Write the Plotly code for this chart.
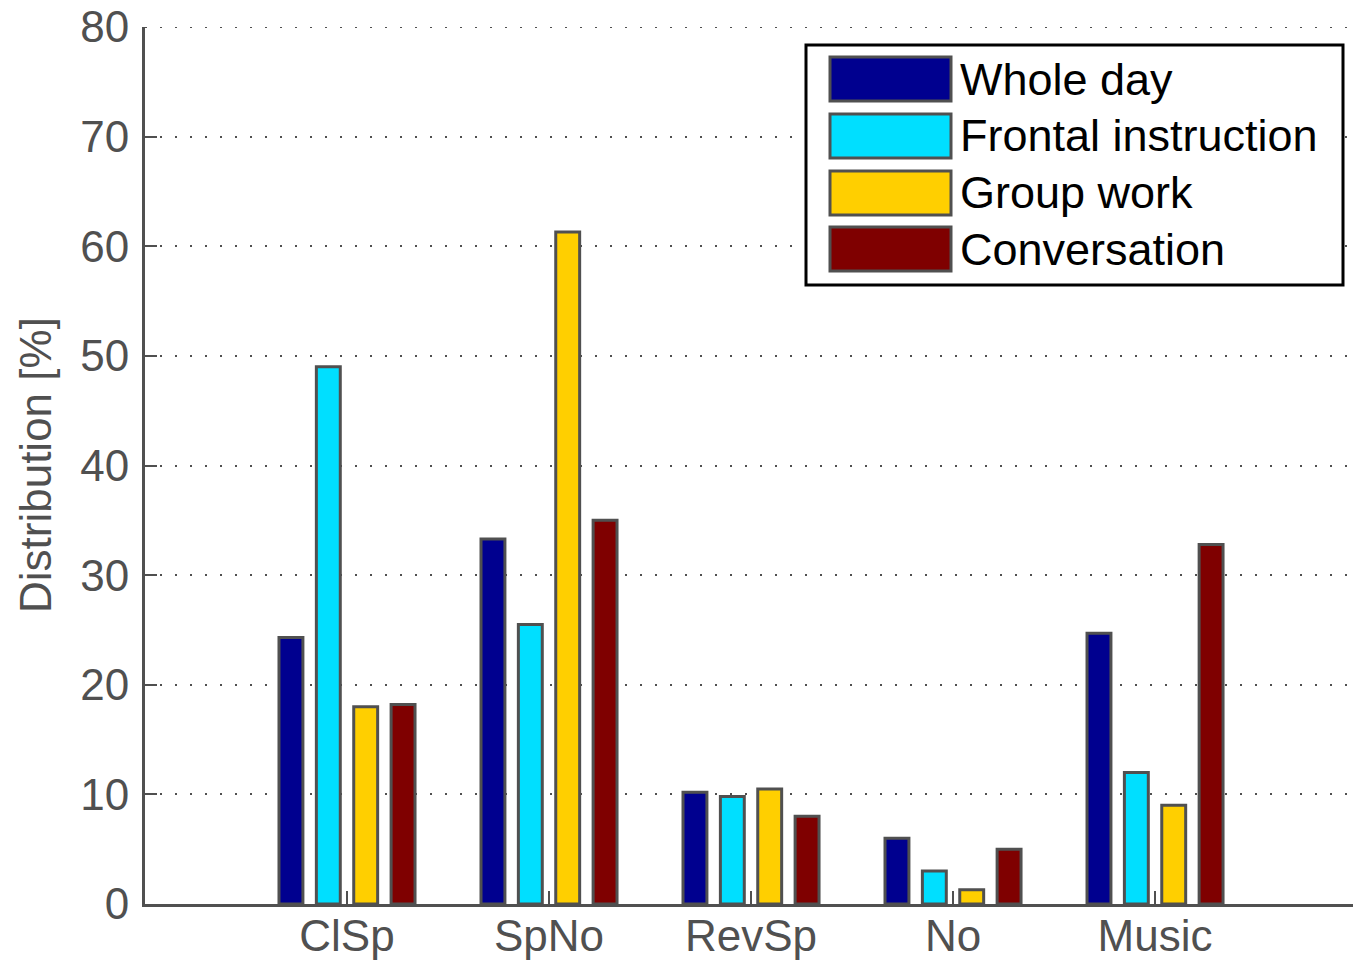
import plotly.graph_objects as go

# Categories and series values (percent)
categories = ["ClSp", "SpNo", "RevSp", "No", "Music"]
series_names = ["Whole day", "Frontal instruction", "Group work", "Conversation"]
whole_day = [24.3, 33.3, 10.2, 6.0, 24.7]
frontal_instruction = [49.0, 25.5, 9.8, 3.0, 12.0]
group_work = [18.0, 61.3, 10.5, 1.3, 9.0]
conversation = [18.2, 35.0, 8.0, 5.0, 32.8]
series_values = [whole_day, frontal_instruction, group_work, conversation]
series_colors = ["#00008F", "#00DFFF", "#FFCF00", "#7F0000"]

y_ticks = list(range(0, 81, 10))
Y_MAX = 80

W, H = 1353, 960
ML, MR, MT, MB = 145, 0, 27, 56
PW, PH = W - ML - MR, H - MT - MB

AXIS = "#505050"
FONT = "Liberation Sans, Arial, sans-serif"
FS = 44
GRID_DASH = "2px,13px"

x_pos = list(range(1, len(categories) + 1))

fig = go.Figure()
for name, vals, col in zip(series_names, series_values, series_colors):
    fig.add_trace(go.Bar(
        x=x_pos, y=vals, name=name,
        marker=dict(color=col, line=dict(color=AXIS, width=3)),
        showlegend=False,
    ))


def px_x(p):
    return (p - ML) / PW


def px_y(p):
    return (H - MB - p) / PH


# Dotted grid line along the top edge of the axes
shapes = [dict(type="line", xref="paper", yref="y", x0=0, x1=1, y0=Y_MAX, y1=Y_MAX,
               line=dict(color=AXIS, width=2, dash=GRID_DASH), layer="below")]

# Legend box drawn in paper coordinates
shapes.append(dict(type="rect", xref="paper", yref="paper",
                   x0=px_x(806), x1=px_x(1343), y0=px_y(285), y1=px_y(45),
                   line=dict(color="black", width=3), fillcolor="white", layer="above"))
annotations = []
row_top = [57, 114, 171, 227]
for i, (name, col) in enumerate(zip(series_names, series_colors)):
    t = row_top[i]
    b = t + 44
    shapes.append(dict(type="rect", xref="paper", yref="paper",
                       x0=px_x(830), x1=px_x(951), y0=px_y(b), y1=px_y(t),
                       line=dict(color=AXIS, width=3), fillcolor=col, layer="above"))
    annotations.append(dict(xref="paper", yref="paper", x=px_x(958), y=px_y((t + b) / 2),
                            text=name, showarrow=False, xanchor="left", yanchor="middle",
                            font=dict(family=FONT, size=45, color="black")))

# Y-axis title
annotations.append(dict(xref="paper", yref="paper", x=px_x(35), y=px_y(465),
                        text="Distribution [%]", showarrow=False, textangle=-90,
                        xanchor="center", yanchor="middle",
                        font=dict(family=FONT, size=FS, color=AXIS)))

fig.update_layout(
    width=W, height=H,
    margin=dict(l=ML, r=MR, t=MT, b=MB),
    paper_bgcolor="white", plot_bgcolor="white",
    barmode="group", bargap=0.26, bargroupgap=0.36,
    font=dict(family=FONT, size=FS, color=AXIS),
    shapes=shapes, annotations=annotations,
    showlegend=False,
)
fig.update_xaxes(
    range=[0, 5.98], tickvals=x_pos, ticktext=categories,
    showline=True, linecolor=AXIS, linewidth=3,
    ticks="inside", ticklen=13, tickwidth=2, tickcolor=AXIS,
    showgrid=False, zeroline=False, automargin=False,
    ticklabelstandoff=-9,
    tickfont=dict(family=FONT, size=FS, color=AXIS),
)
fig.update_yaxes(
    range=[0, Y_MAX], tickvals=y_ticks,
    showline=True, linecolor=AXIS, linewidth=3,
    ticks="inside", ticklen=12, tickwidth=2, tickcolor=AXIS,
    showgrid=True, gridcolor=AXIS, gridwidth=2, griddash=GRID_DASH,
    zeroline=False, ticklabelstandoff=4, automargin=False,
    tickfont=dict(family=FONT, size=FS, color=AXIS),
)

fig.write_html("out.html")
